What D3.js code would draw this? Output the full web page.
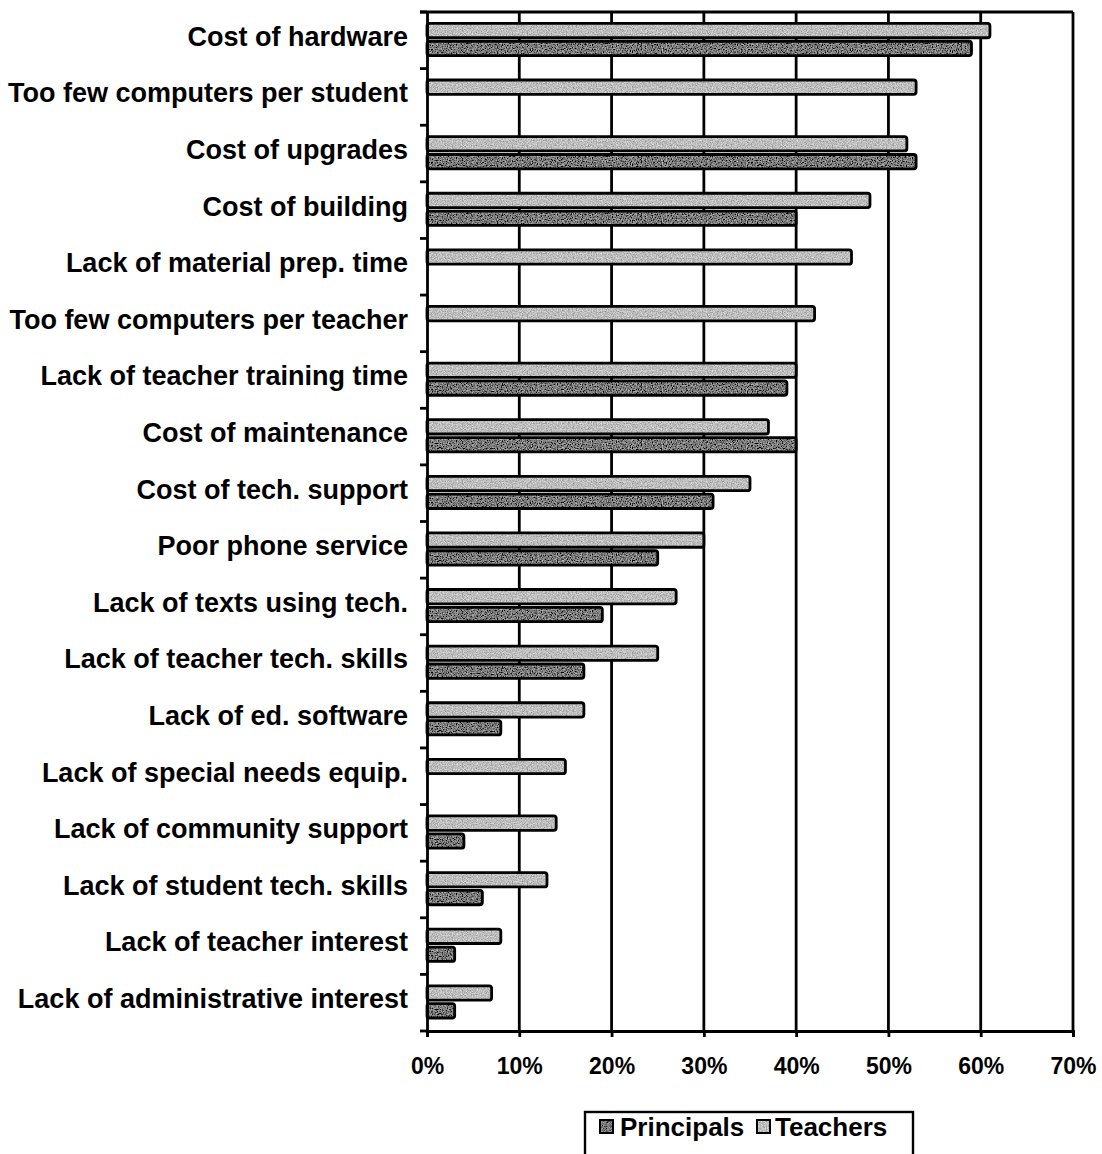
<!DOCTYPE html>
<html>
<head>
<meta charset="utf-8">
<script src="https://cdn.jsdelivr.net/npm/d3@7/dist/d3.min.js"></script>
<style>
  html, body { margin: 0; padding: 0; background: #fff; }
  svg { display: block; }
  text { font-family: "Liberation Sans", Arial, Helvetica, sans-serif; font-weight: bold; fill: #000; }
</style>
</head>
<body>
<svg id="chart" width="1102" height="1154"></svg>
<script>
// Barriers to technology use, share of respondents citing each barrier
const categories = [
  "Cost of hardware",
  "Too few computers per student",
  "Cost of upgrades",
  "Cost of building",
  "Lack of material prep. time",
  "Too few computers per teacher",
  "Lack of teacher training time",
  "Cost of maintenance",
  "Cost of tech. support",
  "Poor phone service",
  "Lack of texts using tech.",
  "Lack of teacher tech. skills",
  "Lack of ed. software",
  "Lack of special needs equip.",
  "Lack of community support",
  "Lack of student tech. skills",
  "Lack of teacher interest",
  "Lack of administrative interest"
];
const teachers   = [61, 53, 52, 48, 46, 42, 40, 37, 35, 30, 27, 25, 17, 15, 14, 13, 8, 7];
const principals = [59, null, 53, 40, null, null, 39, 40, 31, 25, 19, 17, 8, null, 4, 6, 3, 3];
const seriesNames = ["Teachers", "Principals"];
const legendOrder = ["Principals", "Teachers"];
const xTicks = [0, 10, 20, 30, 40, 50, 60, 70];

const svg = d3.select("#chart");
const defs = svg.append("defs");

// grain texture for the bar fills
function grain(id, amount, seed) {
  const f = defs.append("filter").attr("id", id)
    .attr("x", 0).attr("y", 0).attr("width", 1).attr("height", 1);
  f.append("feTurbulence").attr("type", "fractalNoise")
    .attr("baseFrequency", 0.8).attr("numOctaves", 2).attr("seed", seed).attr("result", "n");
  f.append("feColorMatrix").attr("in", "n").attr("type", "matrix")
    .attr("values", "1 0 0 0 0  1 0 0 0 0  1 0 0 0 0  0 0 0 0 1").attr("result", "g");
  f.append("feComposite").attr("in", "SourceGraphic").attr("in2", "g")
    .attr("operator", "arithmetic").attr("k1", 0).attr("k2", 1).attr("k3", amount).attr("k4", -amount / 2)
    .attr("result", "mix");
  f.append("feComposite").attr("in", "mix").attr("in2", "SourceAlpha").attr("operator", "in");
}
grain("grainT", 0.8, 4);
grain("grainP", 1.0, 9);

const fills = { Teachers: "#bdbdbd", Principals: "#7a7a7a" };
const filters = { Teachers: "url(#grainT)", Principals: "url(#grainP)" };

const x = d3.scaleLinear().domain([0, 70]).range([427, 1073]);
const y0 = d3.scaleBand().domain(categories).range([12, 1031]);
const y1 = d3.scaleBand().domain(seriesNames).range([10, 45]).paddingInner(0.04);

// gridlines
svg.append("g").selectAll("line")
  .data(xTicks.filter(d => d > 0))
  .join("line")
  .attr("x1", d => x(d)).attr("x2", d => x(d))
  .attr("y1", 12).attr("y2", 1031)
  .attr("stroke", "#000").attr("stroke-width", 2.8);

// top frame line
svg.append("line")
  .attr("x1", 420).attr("x2", x(70)).attr("y1", 12).attr("y2", 12)
  .attr("stroke", "#000").attr("stroke-width", 2.8);

// bars
const rows = categories.map((c, i) => ({ cat: c, Teachers: teachers[i], Principals: principals[i] }));
const sw = 2.8;
const groups = svg.append("g").selectAll("g")
  .data(rows).join("g")
  .attr("transform", d => `translate(0,${y0(d.cat)})`);

const bars = groups.selectAll("g.bar")
  .data(d => seriesNames.filter(s => d[s] != null).map(s => ({ s, v: d[s] })))
  .join("g").attr("class", "bar");

bars.append("rect")
  .attr("x", x(0)).attr("y", d => y1(d.s) + sw / 2)
  .attr("width", d => x(d.v) - x(0)).attr("height", y1.bandwidth() - sw)
  .attr("fill", d => fills[d.s]).attr("filter", d => filters[d.s]);
bars.append("rect")
  .attr("x", x(0)).attr("y", d => y1(d.s) + sw / 2)
  .attr("width", d => x(d.v) - x(0)).attr("height", y1.bandwidth() - sw)
  .attr("rx", 2.5)
  .attr("fill", "none").attr("stroke", "#000").attr("stroke-width", sw);

// left axis: labels at band centres, tick marks at band boundaries
const yAxis = svg.append("g").attr("transform", `translate(${x(0)},0)`)
  .call(d3.axisLeft(y0).tickSize(0).tickPadding(19));
yAxis.select(".domain").attr("stroke", "#000").attr("stroke-width", 2.8);
yAxis.selectAll("text").attr("font-size", 27).attr("dy", "0.2em")
  .style("font-family", "'Liberation Sans', Arial, sans-serif").style("font-weight", "bold");

const bounds = categories.map(c => y0(c)).concat([y0.range()[1]]);
svg.append("g").selectAll("line")
  .data(bounds).join("line")
  .attr("x1", x(0) - 7).attr("x2", x(0))
  .attr("y1", d => d).attr("y2", d => d)
  .attr("stroke", "#000").attr("stroke-width", 2.8);

// bottom axis
const xAxis = svg.append("g").attr("transform", `translate(0,1031)`)
  .call(d3.axisBottom(x).tickValues(xTicks).tickSize(6).tickPadding(21).tickFormat(d => d + "%"));
xAxis.select(".domain").attr("stroke", "#000").attr("stroke-width", 2.8);
xAxis.selectAll(".tick line").attr("stroke", "#000").attr("stroke-width", 2.8);
xAxis.selectAll("text").attr("font-size", 23)
  .style("font-family", "'Liberation Sans', Arial, sans-serif").style("font-weight", "bold");

// legend
const legend = svg.append("g");
legend.append("rect")
  .attr("x", 585).attr("y", 1112).attr("width", 328).attr("height", 70)
  .attr("fill", "#fff").attr("stroke", "#000").attr("stroke-width", 2.4);
const swatchX = { Principals: 600, Teachers: 757 };
const labelX = { Principals: 620, Teachers: 775 };
const items = legend.selectAll("g.item").data(legendOrder).join("g").attr("class", "item");
items.append("rect").attr("x", d => swatchX[d]).attr("y", 1120).attr("width", 13).attr("height", 13)
  .attr("fill", d => fills[d]).attr("filter", d => filters[d]);
items.append("rect").attr("x", d => swatchX[d]).attr("y", 1120).attr("width", 13).attr("height", 13)
  .attr("fill", "none").attr("stroke", "#000").attr("stroke-width", 2);
items.append("text").attr("x", d => labelX[d]).attr("y", 1136).attr("font-size", 26).text(d => d);
</script>
</body>
</html>
